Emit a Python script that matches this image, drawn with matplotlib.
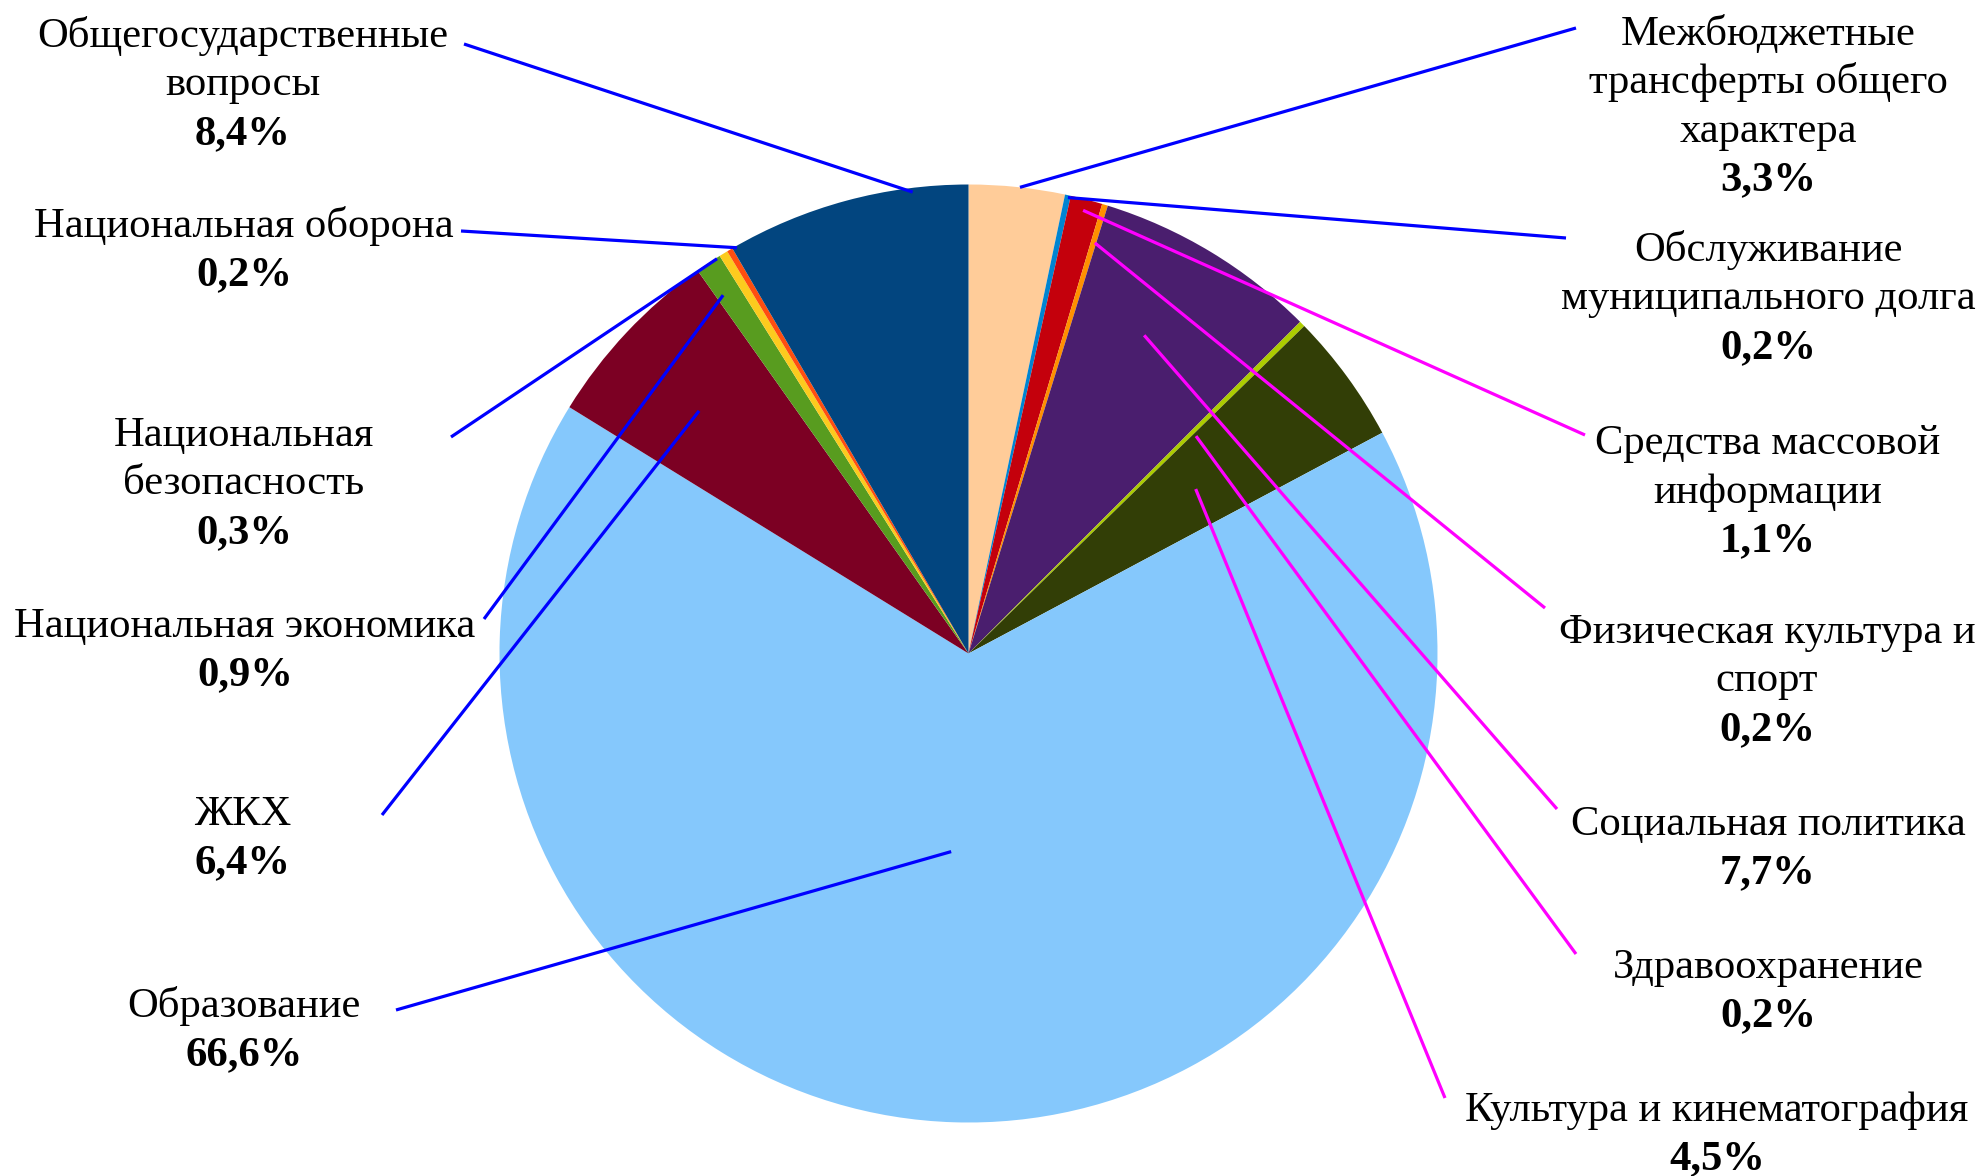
import matplotlib
matplotlib.use("Agg")
import matplotlib.pyplot as plt
import numpy as np

# ---- data (clockwise from 12 o'clock) ----
categories = [
    "Межбюджетные\nтрансферты общего\nхарактера",
    "Обслуживание\nмуниципального долга",
    "Средства массовой\nинформации",
    "Физическая культура и\nспорт",
    "Социальная политика",
    "Здравоохранение",
    "Культура и кинематография",
    "Образование",
    "ЖКХ",
    "Национальная экономика",
    "Национальная\nбезопасность",
    "Национальная оборона",
    "Общегосударственные\nвопросы",
]
values = [3.3, 0.2, 1.1, 0.2, 7.7, 0.2, 4.5, 66.6, 6.4, 0.9, 0.3, 0.2, 8.4]
colors = ["#FFCC99", "#0084D1", "#C4000C", "#FF9000", "#4A1E6E", "#ADCC00",
          "#323E06", "#85C8FC", "#7C0023", "#589C1F", "#FCCB1E", "#FF4E10",
          "#02457F"]

# ---- layout (pixel coordinates, y measured from top) ----
W, H = 1982, 1176
CX, CY, R = 968.5, 653.5, 469
# label block: x centre, y of first line centre
label_pos = [
    (1768, 31), (1768, 247), (1768, 440), (1767, 629), (1768, 821),
    (1768, 964), (1717, 1107), (244, 1003), (243, 811), (245, 623),
    (244, 432), (244, 223), (243, 33),
]
# leader line: label-side end (px) and pie-side end (angle cw from top, r fraction)
leader_label_end = [
    (1576, 28), (1566, 238), (1585, 435), (1545, 608), (1557, 809),
    (1576, 954), (1445, 1098), (396, 1010), (382, 815), (484, 619),
    (451, 437), (461, 231), (464, 44),
]
leader_pie_end = [
    (6.3, 1.0), (12.3, 0.995), (14.5, 0.976), (17.1, 0.916), (28.9, 0.775),
    (46.3, 0.671), (54.1, 0.598), (185.0, 0.424), (312.0, 0.773), (325.6, 0.926),
    (327.5, 0.998), (330.3, 0.996), (353.1, 0.991),
]
leader_colors = ["#0000FF", "#0000FF", "#FF00FF", "#FF00FF", "#FF00FF",
                 "#FF00FF", "#FF00FF", "#0000FF", "#0000FF", "#0000FF",
                 "#0000FF", "#0000FF", "#0000FF"]

FONT = "Liberation Serif"
FS = 30.7
LH = 48.5

fig = plt.figure(figsize=(W / 100, H / 100), dpi=100)
ax = fig.add_axes([0, 0, 1, 1])
ax.pie(values, colors=colors, startangle=90, counterclock=False,
       center=(CX, H - CY), radius=R, wedgeprops=dict(linewidth=0))
ax.set_xlim(0, W)
ax.set_ylim(0, H)
ax.set_aspect("equal")
ax.axis("off")

for i, (name, v) in enumerate(zip(categories, values)):
    lx, ly = label_pos[i]
    lines = name.split("\n")
    pct = f"{v:.1f}".replace(".", ",") + "%"
    for j, ln in enumerate(lines + [pct]):
        bold = j == len(lines)
        ax.text(lx, H - (ly + j * LH + 14), ln, ha="center", va="baseline",
                fontsize=FS, family=FONT,
                fontweight="bold" if bold else "normal", color="black")
    # leader line
    ang, rf = leader_pie_end[i]
    px = CX + R * rf * np.sin(np.radians(ang))
    py = CY - R * rf * np.cos(np.radians(ang))
    ex, ey = leader_label_end[i]
    ax.plot([ex, px], [H - ey, H - py], color=leader_colors[i], lw=2.3,
            solid_capstyle="butt")

fig.savefig("out.png", dpi=100, facecolor="white")
